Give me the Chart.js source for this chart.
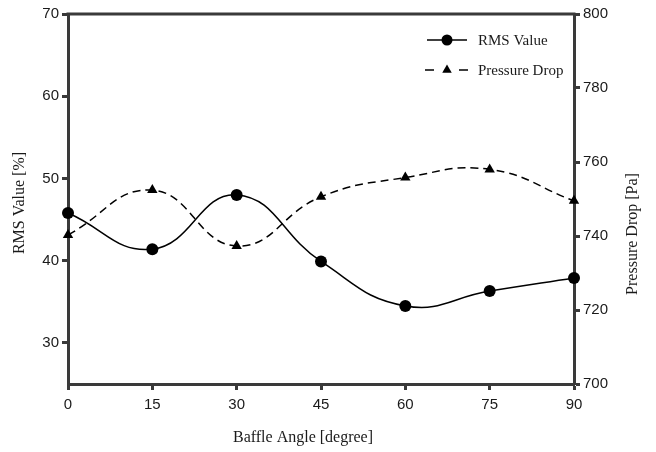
<!DOCTYPE html>
<html>
<head>
<meta charset="utf-8">
<script src="https://cdn.jsdelivr.net/npm/chart.js@4.4.0/dist/chart.umd.min.js"></script>
<style>
  html, body { margin: 0; padding: 0; background: #fff; }
  #wrap { width: 656px; height: 452px; }
</style>
</head>
<body>
<div id="wrap"><canvas id="chart"></canvas></div>
<script>
// Baffle angle vs RMS value / pressure drop

const angles = [0, 15, 30, 45, 60, 75, 90];
const rmsValues = [45.8, 41.4, 48.0, 39.9, 34.5, 36.3, 37.9];
const pressureDrop = [740.3, 752.4, 737.3, 750.6, 755.8, 758.0, 749.5];

const xTicks = [0, 15, 30, 45, 60, 75, 90];
const rmsTicks = [30, 40, 50, 60, 70];
const pressureTicks = [700, 720, 740, 760, 780, 800];

const AXIS = '#3a3a3a';
const TICK_FONT = { family: "'Liberation Sans', Arial, sans-serif", size: 15 };
const SERIF = "'Liberation Serif', 'Times New Roman', serif";

const pairs = (xs, ys) => xs.map((x, i) => ({ x: x, y: ys[i] }));

// frame, axis titles and the in-plot legend
const decorPlugin = {
  id: 'decor',
  afterDatasetsDraw(chart) {
    const { ctx, chartArea: a } = chart;
    ctx.save();
    ctx.strokeStyle = AXIS;
    ctx.lineWidth = 3;
    ctx.beginPath();
    ctx.moveTo(a.left - 1.5, a.top);
    ctx.lineTo(a.right + 1.5, a.top);
    ctx.stroke();

    ctx.fillStyle = '#1a1a1a';
    ctx.font = '16px ' + SERIF;
    ctx.textAlign = 'center';
    ctx.textBaseline = 'middle';
    ctx.fillText('Baffle Angle [degree]', 303, 438);

    ctx.save();
    ctx.translate(20, 203);
    ctx.rotate(-Math.PI / 2);
    ctx.fillText('RMS Value [%]', 0, 0);
    ctx.restore();

    ctx.save();
    ctx.translate(633, 234);
    ctx.rotate(-Math.PI / 2);
    ctx.fillText('Pressure Drop [Pa]', 0, 0);
    ctx.restore();

    // legend
    const items = [
      { label: 'RMS Value', y: 40, dash: [], style: 'circle', r: 5.5 },
      { label: 'Pressure Drop', y: 70, dash: [8, 5], style: 'triangle', r: 5.5 }
    ];
    ctx.font = '15px ' + SERIF;
    ctx.textAlign = 'left';
    items.forEach(it => {
      ctx.strokeStyle = '#000';
      ctx.lineWidth = 1.5;
      ctx.beginPath();
      if (it.dash.length) {
        ctx.moveTo(425, it.y); ctx.lineTo(434, it.y);
        ctx.moveTo(459, it.y); ctx.lineTo(468, it.y);
      } else {
        ctx.moveTo(427, it.y); ctx.lineTo(467, it.y);
      }
      ctx.stroke();
      ctx.fillStyle = '#000';
      Chart.helpers.drawPoint(ctx, { pointStyle: it.style, radius: it.r, borderWidth: 0 }, 447, it.y);
      ctx.fillStyle = '#1a1a1a';
      ctx.fillText(it.label, 478, it.y + 1);
    });
    ctx.restore();
  }
};

new Chart(document.getElementById('chart'), {
  type: 'line',
  data: {
    datasets: [
      {
        label: 'RMS Value',
        data: pairs(angles, rmsValues),
        yAxisID: 'y',
        borderColor: '#000',
        backgroundColor: '#000',
        borderWidth: 1.5,
        tension: 0.45,
        pointStyle: 'circle',
        pointRadius: 6,
        pointBorderWidth: 0,
        clip: false
      },
      {
        label: 'Pressure Drop',
        data: pairs(angles, pressureDrop),
        yAxisID: 'y1',
        borderColor: '#000',
        backgroundColor: '#000',
        borderWidth: 1.5,
        borderDash: [8, 5],
        tension: 0.45,
        pointStyle: 'triangle',
        pointRadius: 6,
        pointBorderWidth: 0,
        clip: false
      }
    ]
  },
  options: {
    responsive: true,
    maintainAspectRatio: false,
    animation: false,
    layout: { padding: { top: 14, left: 0, right: 0, bottom: 0 } },
    plugins: {
      legend: { display: false },
      tooltip: { enabled: false }
    },
    scales: {
      x: {
        type: 'linear',
        min: 0,
        max: 90,
        afterBuildTicks: s => { s.ticks = xTicks.map(v => ({ value: v })); },
        afterFit: s => { s.height = 68; },
        ticks: { color: '#1a1a1a', font: TICK_FONT, padding: 6, maxRotation: 0 },
        grid: { drawOnChartArea: false, tickLength: 6, tickWidth: 3, tickColor: AXIS },
        border: { color: AXIS, width: 3 }
      },
      y: {
        position: 'left',
        min: 25,
        max: 70,
        afterBuildTicks: s => { s.ticks = rmsTicks.map(v => ({ value: v })); },
        afterFit: s => { s.width = 68; },
        ticks: { color: '#1a1a1a', font: TICK_FONT, padding: 3 },
        grid: { drawOnChartArea: false, tickLength: 6, tickWidth: 3, tickColor: AXIS },
        border: { color: AXIS, width: 3 }
      },
      y1: {
        position: 'right',
        min: 700,
        max: 800,
        afterBuildTicks: s => { s.ticks = pressureTicks.map(v => ({ value: v })); },
        afterFit: s => { s.width = 82; },
        ticks: { color: '#1a1a1a', font: TICK_FONT, padding: 3 },
        grid: { drawOnChartArea: false, tickLength: 6, tickWidth: 3, tickColor: AXIS },
        border: { color: AXIS, width: 3 }
      }
    }
  },
  plugins: [decorPlugin]
});
</script>
</body>
</html>
